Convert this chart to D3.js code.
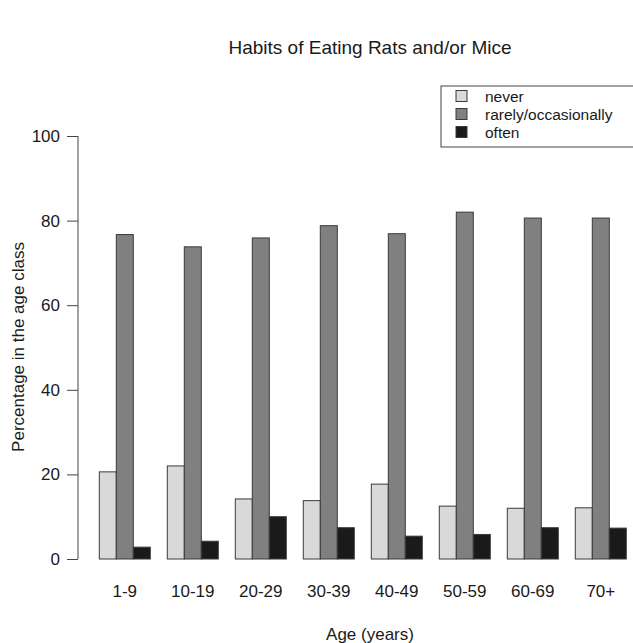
<!DOCTYPE html>
<html><head><meta charset="utf-8">
<script src="https://cdn.jsdelivr.net/npm/d3@7"></script>
<style>body{margin:0;background:#fff;} svg{display:block;} text{font-family:"Liberation Sans",Arial,sans-serif;fill:#1a1a1a;}</style>
</head><body>
<svg id="c" width="633" height="643"></svg>
<script>
const categories = ["1-9","10-19","20-29","30-39","40-49","50-59","60-69","70+"];
const seriesNames = ["never","rarely/occasionally","often"];
const never = [20.6, 22.0, 14.2, 13.8, 17.7, 12.5, 12.0, 12.1];
const rarely = [76.7, 73.8, 75.9, 78.8, 76.9, 82.0, 80.6, 80.6];
const often = [2.8, 4.2, 10.0, 7.4, 5.4, 5.8, 7.4, 7.3];
const yTicks = [0, 20, 40, 60, 80, 100];
const colors = ["#d9d9d9", "#808080", "#1a1a1a"];

const series = [never, rarely, often];
const svg = d3.select("#c");
const x = d3.scaleLinear().domain([0, 33]).range([82.3, 82.3 + 33 * 17]);
const y = d3.scaleLinear().domain([0, 100]).range([559, 136]);
const FS = 17;

// bars
const bars = [];
categories.forEach((c, i) => series.forEach((s, j) => bars.push({i, j, v: s[i]})));
svg.append("g").selectAll("rect").data(bars).join("rect")
  .attr("x", d => x(1 + 4 * d.i + d.j))
  .attr("width", d => x(2 + 4 * d.i + d.j) - x(1 + 4 * d.i + d.j))
  .attr("y", d => y(d.v))
  .attr("height", d => y(0) - y(d.v))
  .attr("fill", d => colors[d.j])
  .attr("stroke", "#3a3a3a").attr("stroke-width", 1);

// y axis
const yAxis = d3.axisLeft(y).tickValues(yTicks).tickSize(11).tickPadding(7).tickFormat(d3.format("d"));
const gy = svg.append("g").attr("transform", "translate(78,0)").call(yAxis);
gy.attr("font-size", FS).attr("font-family", "Liberation Sans, Arial, sans-serif");
gy.select(".domain").attr("stroke", "#444").attr("d", `M0,${y(0)}V${y(100)}`);
gy.selectAll(".tick line").attr("stroke", "#444");
gy.selectAll(".tick text").attr("fill", "#1a1a1a");

// x labels
svg.append("g").selectAll("text").data(categories).join("text")
  .attr("x", (d, i) => x(2.5 + 4 * i))
  .attr("y", 597)
  .attr("text-anchor", "middle").attr("font-size", FS).text(d => d);

// titles
svg.append("text").attr("x", 370).attr("y", 54).attr("text-anchor", "middle").attr("font-size", 19).text("Habits of Eating Rats and/or Mice");
svg.append("text").attr("x", 370).attr("y", 640).attr("text-anchor", "middle").attr("font-size", FS).text("Age (years)");
svg.append("text").attr("transform", "translate(24,347) rotate(-90)").attr("text-anchor", "middle").attr("font-size", FS).text("Percentage in the age class");

// legend
const lg = svg.append("g");
lg.append("rect").attr("x", 441).attr("y", 86).attr("width", 230).attr("height", 61).attr("fill", "none").attr("stroke", "#444");
seriesNames.forEach((n, j) => {
  lg.append("rect").attr("x", 456).attr("y", 90.5 + 18 * j).attr("width", 11).attr("height", 11).attr("fill", colors[j]).attr("stroke", "#3a3a3a");
  lg.append("text").attr("x", 485).attr("y", 101.5 + 18 * j).attr("font-size", 15.5).text(n);
});
</script>
</body></html>
